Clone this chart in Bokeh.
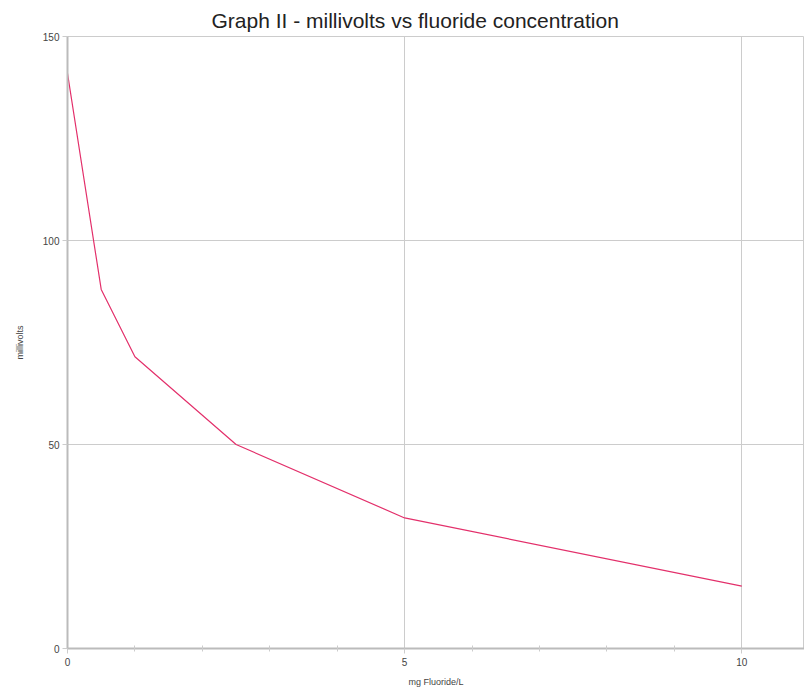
from bokeh.plotting import figure
from bokeh.embed import file_html
from bokeh.resources import INLINE
from bokeh.models import FixedTicker, Range1d

fluoride_mg_l = [0, 0.5, 1, 2.5, 5, 10]
millivolts = [141, 88, 71.5, 50, 32, 15.3]

x_major_ticks = [0, 5, 10]
x_minor_ticks = [1, 2, 3, 4, 6, 7, 8, 9]
y_major_ticks = [0, 50, 100, 150]

FONT = "Liberation Sans"

p = figure(width=804, height=691, output_backend="svg", toolbar_location=None,
           x_range=Range1d(0, 10.93), y_range=Range1d(0, 150),
           title="Graph II - millivolts vs fluoride concentration",
           min_border_left=67, min_border_right=0, min_border_top=36,
           min_border_bottom=43)

p.title.align = "left"
p.title.offset = 144
p.title.text_font = FONT
p.title.text_font_size = "21px"
p.title.text_font_style = "normal"
p.title.text_color = "#222222"

p.outline_line_color = "#cccccc"
p.outline_line_width = 1

p.xaxis.ticker = FixedTicker(ticks=x_major_ticks, minor_ticks=x_minor_ticks)
p.yaxis.ticker = FixedTicker(ticks=y_major_ticks)

for ax in (p.xaxis, p.yaxis):
    ax.axis_line_color = "#bbbbbb"
    ax.axis_line_width = 2
    ax.major_tick_line_color = "#cccccc"
    ax.minor_tick_line_color = "#cccccc"
    ax.major_tick_out = 5
    ax.major_tick_in = 0
    ax.minor_tick_out = 3
    ax.minor_tick_in = 3
    ax.major_label_text_font = FONT
    ax.major_label_text_font_size = "10px"
    ax.major_label_text_color = "#444444"
    ax.axis_label_text_font = FONT
    ax.axis_label_text_font_size = "9px"
    ax.axis_label_text_font_style = "normal"
    ax.axis_label_text_color = "#444444"

p.xaxis.axis_label = "mg Fluoride/L"
p.yaxis.axis_label = "millivolts"
p.xaxis.major_label_standoff = 4
p.xaxis.axis_label_standoff = 8
p.yaxis.major_label_standoff = 3
p.yaxis.axis_label_standoff = 15

p.xgrid.grid_line_color = "#cccccc"
p.ygrid.grid_line_color = "#cccccc"
p.xgrid.grid_line_width = 1
p.ygrid.grid_line_width = 1

p.line(fluoride_mg_l, millivolts, line_color="#e3306b", line_width=1.2)

open("out.html", "w").write(file_html(p, INLINE))
